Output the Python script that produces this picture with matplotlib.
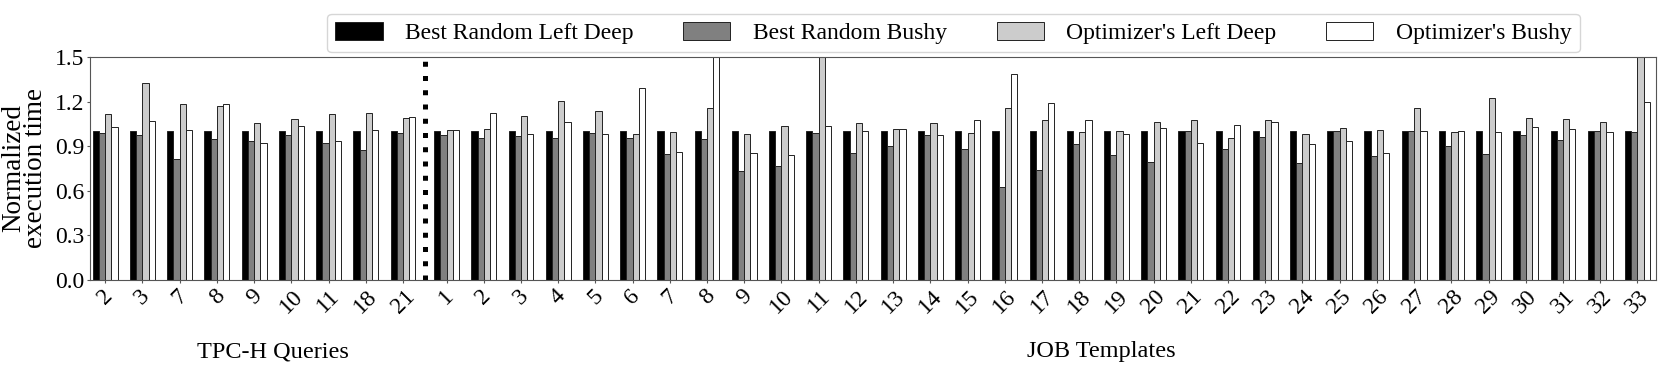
import numpy as np
import matplotlib
matplotlib.use('Agg')
import matplotlib.pyplot as plt

plt.rcParams['font.family'] = ['Liberation Serif', 'DejaVu Serif']

# TPC-H queries
tpch_labels = ['2', '3', '7', '8', '9', '10', '11', '18', '21']
tpch_rand_ld = [1.0] * 9
tpch_rand_bushy = [0.988, 0.976, 0.815, 0.950, 0.936, 0.976, 0.920, 0.875, 0.988]
tpch_opt_ld = [1.116, 1.324, 1.183, 1.167, 1.055, 1.084, 1.116, 1.125, 1.089]
tpch_opt_bushy = [1.026, 1.068, 1.010, 1.187, 0.920, 1.039, 0.936, 1.012, 1.095]

# JOB templates
job_labels = [str(i) for i in range(1, 34)]
job_rand_ld = [1.0] * 33
job_rand_bushy = [0.974, 0.956, 0.967, 0.954, 0.992, 0.956, 0.846, 0.949, 0.732, 0.768,
                  0.990, 0.853, 0.900, 0.972, 0.884, 0.626, 0.738, 0.918, 0.842, 0.795,
                  1.001, 0.882, 0.961, 0.786, 1.000, 0.833, 1.000, 0.900, 0.848, 0.974,
                  0.943, 1.000, 0.994]
job_opt_ld = [1.010, 1.015, 1.100, 1.205, 1.136, 0.981, 0.994, 1.154, 0.983, 1.039,
              1.900, 1.053, 1.015, 1.053, 0.988, 1.156, 1.077, 0.997, 1.001, 1.064,
              1.073, 0.952, 1.073, 0.981, 1.024, 1.012, 1.154, 0.994, 1.223, 1.089,
              1.084, 1.066, 1.800]
job_opt_bushy = [1.010, 1.122, 0.979, 1.062, 0.981, 1.293, 0.860, 2.000, 0.855, 0.840,
                 1.033, 1.001, 1.015, 0.974, 1.075, 1.385, 1.192, 1.075, 0.979, 1.021,
                 0.920, 1.042, 1.064, 0.914, 0.938, 0.851, 1.000, 1.003, 0.994, 1.026,
                 1.019, 0.997, 1.194]

series_names = ['Best Random Left Deep', 'Best Random Bushy',
                "Optimizer's Left Deep", "Optimizer's Bushy"]
colors = ['black', '#808080', '#cccccc', 'white']

gap = 0.17
x_tpch = np.arange(len(tpch_labels))
x_job = np.arange(len(job_labels)) + len(tpch_labels) + gap
x = np.concatenate([x_tpch, x_job])
labels = tpch_labels + job_labels
series = [tpch_rand_ld + job_rand_ld,
          tpch_rand_bushy + job_rand_bushy,
          tpch_opt_ld + job_opt_ld,
          tpch_opt_bushy + job_opt_bushy]

fig = plt.figure(figsize=(16.61, 3.70), dpi=100)
ax = fig.add_axes([0.0542, 0.2432, 0.9428, 0.6028])

w = 0.167
for k in range(4):
    ax.bar(x + (k - 1.5) * w, series[k], w, color=colors[k], edgecolor='#222222',
           linewidth=0.7, label=series_names[k])

# separator between the two benchmarks
sep = (x_tpch[-1] + x_job[0]) / 2.0
ax.plot([sep, sep], [0, 1.48], color='black', linewidth=3.6,
        linestyle=(0, (1, 1.85)), solid_capstyle='butt')

ax.set_ylim(0, 1.5)
ax.set_yticks([0.0, 0.3, 0.6, 0.9, 1.2, 1.5])
ax.set_yticklabels(['0.0', '0.3', '0.6', '0.9', '1.2', '1.5'])
ax.set_xlim(x[0] - 0.41, x[-1] + 0.5)
ax.set_xticks(x)
ax.set_xticklabels(labels, rotation=45)
ax.tick_params(labelsize=17, length=2.5, pad=1.5, color='#555555')
ax.set_ylabel('Normalized\nexecution time', fontsize=19.5, linespacing=0.85, labelpad=5)
for s in ax.spines.values():
    s.set_color('#555555')

fig.text(0.1644, 0.034, 'TPC-H Queries', fontsize=17.5, ha='center')
fig.text(0.663, 0.034, 'JOB Templates', fontsize=17.5, ha='center')

fig.legend(loc='upper center', bbox_to_anchor=(0.574, 0.995), ncol=4, fontsize=17,
           handlelength=2.0, handleheight=0.8, handletextpad=0.95, columnspacing=2.1,
           borderpad=0.35, frameon=True)

plt.savefig('out.png', dpi=100)
